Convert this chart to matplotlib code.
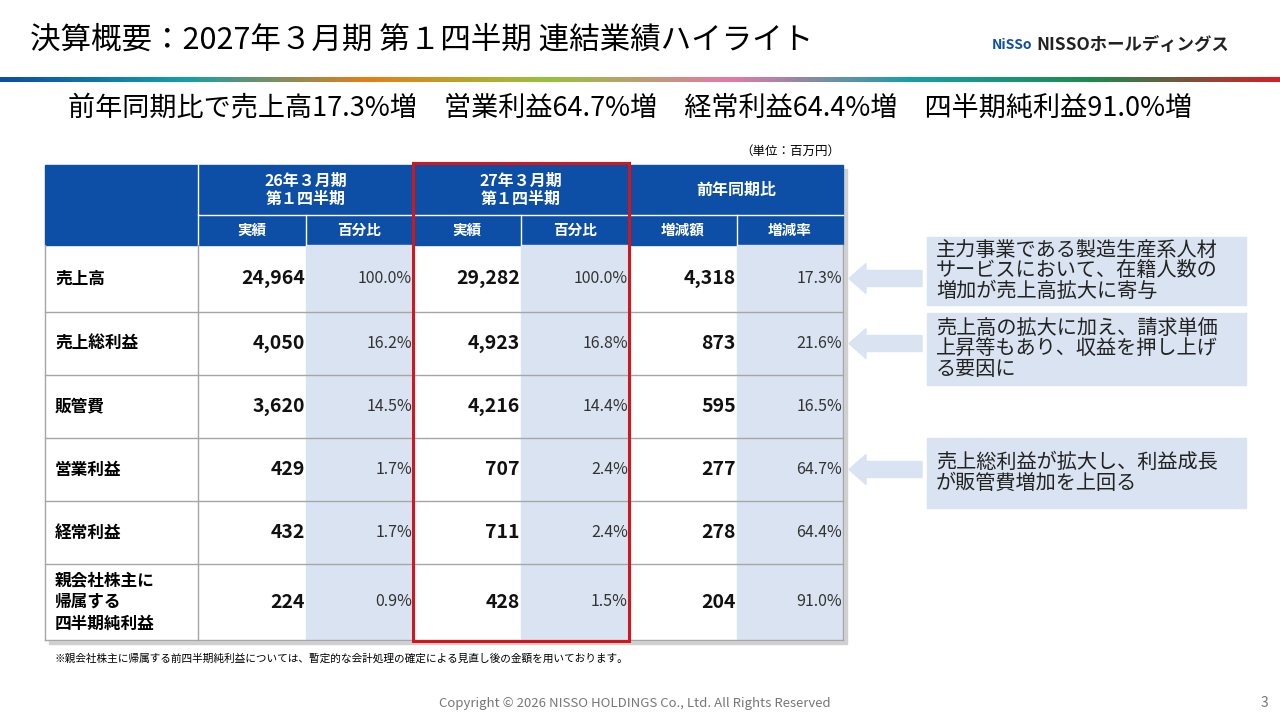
import matplotlib
matplotlib.use("Agg")
import matplotlib.pyplot as plt
from matplotlib.patches import Rectangle, Polygon
from matplotlib.colors import LinearSegmentedColormap
import numpy as np

plt.rcParams['font.family'] = ['Noto Sans CJK JP', 'DejaVu Sans']

# data
rows = ["売上高", "売上総利益", "販管費", "営業利益", "経常利益", "親会社株主に\n帰属する\n四半期純利益"]
prev_val = ["24,964", "4,050", "3,620", "429", "432", "224"]
prev_pct = ["100.0%", "16.2%", "14.5%", "1.7%", "1.7%", "0.9%"]
cur_val = ["29,282", "4,923", "4,216", "707", "711", "428"]
cur_pct = ["100.0%", "16.8%", "14.4%", "2.4%", "2.4%", "1.5%"]
diff_val = ["4,318", "873", "595", "277", "278", "204"]
diff_pct = ["17.3%", "21.6%", "16.5%", "64.7%", "64.4%", "91.0%"]
groups = ["26年３月期\n第１四半期", "27年３月期\n第１四半期", "前年同期比"]
subheads = ["実績", "百分比", "実績", "百分比", "増減額", "増減率"]
notes = ["主力事業である製造生産系人材\nサービスにおいて、在籍人数の\n増加が売上高拡大に寄与",
         "売上高の拡大に加え、請求単価\n上昇等もあり、収益を押し上げ\nる要因に",
         "売上総利益が拡大し、利益成長\nが販管費増加を上回る"]
note_rows = [0, 1, 3]

fig = plt.figure(figsize=(12.8, 7.2), dpi=100)
ax = fig.add_axes([0, 0, 1, 1])
ax.set_xlim(0, 1280)
ax.set_ylim(720, 0)
ax.axis("off")

BLUE = "#0d4ea6"
LIGHT = "#dae3f1"
GRID = "#a6a6a6"

ax.text(30, 40, "決算概要：2027年３月期 第１四半期 連結業績ハイライト", fontsize=22, va="center")
ax.text(992, 45, "NiSSo", fontsize=10, color=BLUE, fontweight="bold", va="center")
ax.text(1036, 45, "NISSOホールディングス", fontsize=12.5, fontweight="bold", color="#222222", va="center")
cmap = LinearSegmentedColormap.from_list("bar", ["#0b4ea2", "#14a0a8", "#e47f16", "#98c23c",
                                                 "#e37aa6", "#14a0a8", "#1e8a4c", "#d41f26"])
ax.imshow(np.linspace(0, 1, 500)[None, :], cmap=cmap, extent=[0, 1280, 82, 77], aspect="auto")

ax.text(630, 108, "前年同期比で売上高17.3%増　営業利益64.7%増　経常利益64.4%増　四半期純利益91.0%増",
        fontsize=19.5, ha="center", va="center")
ax.text(840, 151, "（単位：百万円）", fontsize=9, ha="right", va="center")

xs = [45, 198, 306, 413, 521, 629, 737, 843]
ys = [245, 312, 375, 438, 501, 564, 640]

# shadow
ax.add_patch(Rectangle((49, 169), 798, 475, color="#d0d0d0", zorder=0))
ax.add_patch(Rectangle((45, 165), 798, 475, color="white", zorder=0.5))
# header
ax.add_patch(Rectangle((45, 165), 798, 80, color=BLUE, zorder=1))
for i, g in enumerate(groups):
    ax.text((xs[1 + 2 * i] + xs[3 + 2 * i]) / 2, 190, g, color="white", fontsize=11.5, fontweight="bold",
            ha="center", va="center", linespacing=1.15, zorder=3)
for i, s in enumerate(subheads):
    ax.text((xs[i + 1] + xs[i + 2]) / 2, 230, s, color="white", fontsize=10.5, fontweight="bold",
            ha="center", va="center", zorder=3)
ax.plot([198, 843], [215, 215], color="white", lw=1, zorder=2)
for x in xs[1:-1]:
    ax.plot([x, x], [165 if x in (198, 413, 629) else 215, 245], color="white", lw=1, zorder=2)

# shaded pct columns
for c in (2, 4, 6):
    ax.add_patch(Rectangle((xs[c], 245), xs[c + 1] - xs[c], 395, color=LIGHT, zorder=1))
for y in ys[1:-1]:
    ax.plot([45, 843], [y, y], color=GRID, lw=1, zorder=2)
ax.plot([45, 843], [640, 640], color=GRID, lw=1, zorder=2)
for x in (45, 198, 413, 629, 843):
    ax.plot([x, x], [245, 640], color=GRID, lw=1, zorder=2)

for r in range(len(rows)):
    yc = (ys[r] + ys[r + 1]) / 2
    ax.text(55, yc, rows[r], fontsize=12, fontweight="bold", va="center", linespacing=1.25, zorder=3)
    vals = [prev_val[r], prev_pct[r], cur_val[r], cur_pct[r], diff_val[r], diff_pct[r]]
    for c, v in enumerate(vals):
        bold = c % 2 == 0
        ax.text(xs[c + 2] - 1, yc, v, fontsize=14 if bold else 11.5, fontweight="bold" if bold else "normal",
                ha="right", va="center", color="#111111" if bold else "#333333", zorder=3)

ax.add_patch(Rectangle((413, 163), 216, 478, fill=False, ec="#d4161c", lw=2.2, zorder=4))

ax.text(55, 659, "※親会社株主に帰属する前四半期純利益については、暫定的な会計処理の確定による見直し後の金額を用いております。",
        fontsize=7.7, va="center")

# callouts
boxes = [(237, 305), (313, 385), (438, 508)]
for (y0, y1), t, r in zip(boxes, notes, note_rows):
    ax.add_patch(Rectangle((927, y0), 319, y1 - y0, color=LIGHT, zorder=1))
    ax.text(936, (y0 + y1) / 2, t, fontsize=14.5, va="center", linespacing=0.95, color="#222222")
    yc = (ys[r] + ys[r + 1]) / 2
    ax.add_patch(Polygon([(849, yc), (866, yc - 15), (866, yc - 8), (922, yc - 8),
                          (922, yc + 8), (866, yc + 8), (866, yc + 15)], color=LIGHT, zorder=1))

ax.text(635, 703, "Copyright © 2026 NISSO HOLDINGS Co., Ltd. All Rights Reserved", fontsize=9.5,
        color="#777777", ha="center", va="center")
ax.text(1268, 703, "3", fontsize=10, color="#777777", ha="right", va="center")

fig.savefig("out.png", dpi=100)
